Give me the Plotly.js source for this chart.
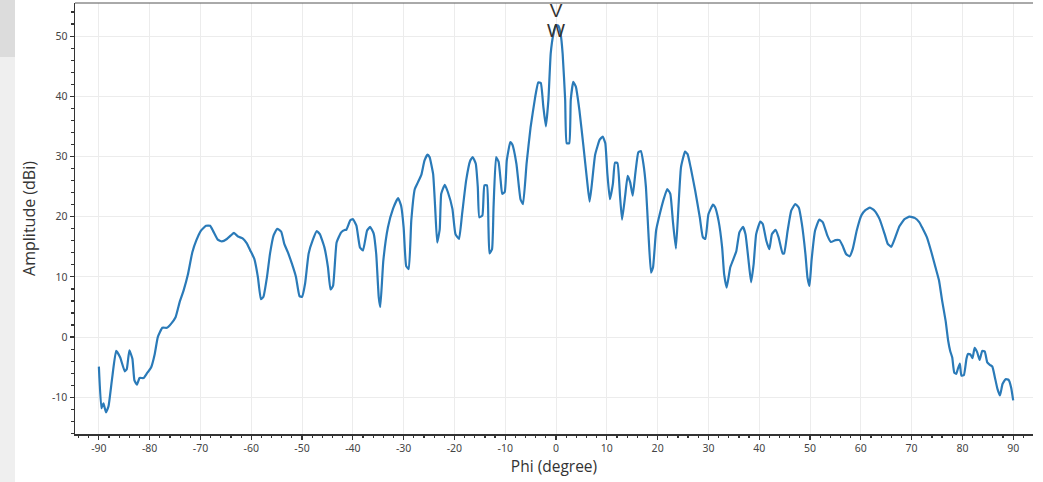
<!DOCTYPE html>
<html>
<head>
<meta charset="utf-8">
<script src="https://cdn.plot.ly/plotly-3.0.1.min.js"></script>
<style>html,body{margin:0;padding:0;background:#fff;}#chart{width:1043px;height:482px;}</style>
</head>
<body>
<div id="chart"></div>
<script>
const phi = [-90,-89.5,-89.1,-88.6,-88.1,-87.4,-86.6,-85.8,-84.9,-84.5,-84.0,-83.4,-83.0,-82.5,-82.0,-81.2,-80.6,-79.7,-79.0,-78.4,-77.5,-76.6,-75.8,-74.9,-74.1,-73.3,-72.5,-71.6,-70.8,-69.9,-68.9,-68.1,-67.5,-66.6,-65.8,-64.8,-64.0,-63.4,-62.6,-61.7,-60.9,-60.2,-59.4,-58.7,-58.1,-57.6,-56.9,-56.3,-55.6,-54.9,-54.1,-53.5,-52.8,-52.0,-51.2,-50.5,-50.0,-49.4,-48.7,-47.9,-47.1,-46.5,-45.6,-44.9,-44.4,-43.9,-43.2,-42.3,-41.6,-41.3,-40.5,-40.0,-39.3,-38.6,-38.0,-37.2,-36.6,-35.9,-35.4,-34.9,-34.6,-34.0,-33.1,-32.1,-31.1,-30.5,-30.0,-29.5,-29.0,-28.5,-27.8,-27.2,-26.5,-25.9,-25.3,-24.9,-24.2,-23.8,-23.4,-22.9,-22.6,-21.9,-21.3,-20.4,-19.8,-19.1,-18.5,-17.7,-16.9,-16.4,-15.8,-15.4,-15.1,-14.5,-14.1,-13.6,-13.3,-13.1,-12.6,-12.3,-11.8,-11.3,-10.9,-10.6,-10.1,-9.7,-9.0,-8.6,-7.8,-7.0,-6.5,-5.8,-5.0,-4.1,-3.5,-3.0,-2.5,-2.0,-1.5,-1.05,-0.5,0,0.46,0.9,1.3,1.8,2.1,2.6,2.9,3.4,3.9,4.6,5.4,6.1,6.6,7.0,7.7,8.6,9.2,9.7,10.1,10.6,11.2,11.6,12.1,12.6,13.0,13.6,14.1,14.6,15.1,15.6,16.2,16.7,17.2,17.7,18.2,18.7,19.1,19.7,20.5,21.3,21.9,22.5,23.0,23.6,24.1,24.6,25.4,25.9,26.5,27.4,28.3,28.9,29.4,30.0,30.9,31.3,32.0,32.7,33.1,33.6,34.3,34.8,35.5,36.1,36.8,37.3,37.9,38.4,38.9,39.4,40.2,40.7,41.4,42.0,42.5,43.2,43.8,44.6,44.9,45.6,46.3,47.1,47.8,48.4,49.1,49.5,49.9,50.3,51.0,51.8,52.5,53.4,54.1,55.0,55.8,56.4,57.1,57.8,58.4,59.2,60.1,60.9,61.8,62.7,63.7,64.7,65.3,66.0,66.8,67.6,68.6,69.6,70.6,71.5,72.2,73.0,73.9,74.7,75.4,76.0,76.7,77.2,77.6,78.0,78.4,78.8,79.1,79.5,79.8,80.3,80.8,81.1,81.6,82.0,82.4,82.9,83.4,83.9,84.4,84.9,85.4,85.9,86.4,86.9,87.4,87.9,88.5,89.1,89.6,90.0];
const amplitude = [-4.9,-11.8,-11.0,-12.5,-11.5,-6.9,-2.3,-3.4,-5.7,-5.3,-2.2,-3.6,-7.2,-7.9,-6.8,-6.8,-6.1,-5.0,-2.8,0,1.55,1.55,2.2,3.3,5.8,7.8,10.3,14.1,16.1,17.7,18.5,18.5,17.6,16.2,15.9,16.3,16.9,17.3,16.7,16.4,15.6,14.4,13.0,10.0,6.3,6.7,10.0,13.9,16.9,18.0,17.5,15.5,14.1,12.2,10.0,6.8,6.7,8.9,13.9,16.1,17.6,17.1,14.9,11.6,7.9,8.5,15.7,17.4,17.8,17.8,19.4,19.6,18.5,14.9,14.4,17.7,18.3,17.2,13.8,6.6,5.0,12.7,18.2,21.3,23.1,21.8,18.2,11.8,11.3,19.3,24.6,25.7,27.0,29.3,30.3,29.9,27.1,21.6,15.7,17.9,23.8,25.3,24.1,21.3,17.1,16.3,20.4,26.0,29.3,29.9,28.8,24.9,19.9,20.2,25.2,25.2,18.2,13.9,14.6,21.6,29.9,29.1,26.0,23.8,24.1,29.3,32.4,32.0,28.8,22.9,22.1,28.8,34.9,39.9,42.3,42.2,38.3,35.0,39.4,47.1,50.4,51.8,51.7,50.4,47.1,39.4,32.2,32.2,39.4,42.4,41.6,37.7,31.7,26.1,22.5,25.0,30.3,32.8,33.3,32.2,27.2,22.9,25.5,29.0,28.9,23.4,19.5,23.4,26.8,25.7,23.5,27.1,30.7,30.9,28.8,24.9,17.1,10.7,11.6,17.7,20.7,23.2,24.6,23.8,19.3,14.7,21.6,28.2,30.8,30.4,28.2,24.3,19.9,16.6,16.3,20.4,22.0,21.6,19.3,14.9,10.4,8.2,11.6,12.7,14.3,17.4,18.3,17.1,12.7,9.1,12.1,17.1,19.2,18.8,16.0,14.6,17.1,17.8,16.6,13.9,13.9,17.7,21.0,22.1,21.5,18.8,13.8,9.9,8.5,12.7,17.7,19.5,19.1,16.9,15.8,16.1,16.1,15.2,13.8,13.4,14.6,17.7,20.2,21.1,21.5,21.0,19.6,17.1,15.5,15.0,16.6,18.4,19.6,20.0,19.8,19.1,18.0,16.6,14.1,11.6,9.4,6.1,2.7,-0.6,-2.3,-3.4,-5.9,-6.1,-5.3,-4.4,-6.4,-6.3,-3.6,-2.8,-2.9,-3.5,-1.8,-2.5,-3.8,-2.3,-2.4,-4.2,-4.6,-4.9,-6.7,-8.6,-9.7,-7.8,-7.0,-7.1,-8.4,-10.5];
const markerPhi = [0, 0];
const markerAmp = [54.0, 50.6];
const markerText = ["V", "W"];
const xTicks = [-90,-80,-70,-60,-50,-40,-30,-20,-10,0,10,20,30,40,50,60,70,80,90];
const yTicks = [-10,0,10,20,30,40,50];

const W = 958, H = 431;
const traces = [
  {x: phi, y: amplitude, type: 'scatter', mode: 'lines',
   line: {color: '#2a7ab8', width: 2.2, shape: 'spline', smoothing: 0.4},
   hoverinfo: 'x+y', showlegend: false},
  {x: markerPhi, y: markerAmp, type: 'scatter', mode: 'text', text: markerText,
   textfont: {family: 'Liberation Sans', size: 19, color: '#333'},
   textposition: 'middle center', showlegend: false, hoverinfo: 'skip'}
];
const layout = {
  width: 1043, height: 482,
  margin: {l: 75, r: 10, t: 3, b: 48},
  paper_bgcolor: '#ffffff', plot_bgcolor: '#ffffff',
  font: {family: 'Noto Sans', size: 11, color: '#444'},
  xaxis: {
    range: [-94.7, 93.9], tickvals: xTicks, ticktext: xTicks.map(String),
    showgrid: true, gridcolor: '#ececec', gridwidth: 1, zeroline: false,
    showline: true, linecolor: '#333', linewidth: 1.5,
    ticks: 'outside', ticklen: 4, tickcolor: '#333', tickwidth: 1.2,
    minor: {dtick: 2, tick0: 0, ticks: 'outside', ticklen: 2.5, tickcolor: '#333', showgrid: false},
    tickfont: {family: 'Noto Sans', size: 10.5, color: '#444'},
    title: {text: 'Phi (degree)', font: {family: 'Open Sans', size: 15.5, color: '#333'}, standoff: 7}
  },
  yaxis: {
    range: [-16.1, 55.5], tickvals: yTicks, ticktext: yTicks.map(String),
    showgrid: true, gridcolor: '#ececec', gridwidth: 1, zeroline: false,
    showline: true, linecolor: '#333', linewidth: 1.5,
    ticks: 'outside', ticklen: 4, tickcolor: '#333', tickwidth: 1.2,
    minor: {dtick: 2, tick0: 0, ticks: 'outside', ticklen: 2.5, tickcolor: '#333', showgrid: false},
    tickfont: {family: 'Noto Sans', size: 10.5, color: '#444'},
    title: {text: 'Amplitude (dBi)', font: {family: 'Open Sans', size: 16, color: '#333'}, standoff: 12}
  },
  shapes: [
    {type: 'rect', xref: 'paper', yref: 'paper', x0: -75/W, x1: -60/W, y0: -48/H, y1: 1 + 3/H,
     fillcolor: '#efefef', line: {width: 0}, layer: 'below'},
    {type: 'rect', xref: 'paper', yref: 'paper', x0: -75/W, x1: -60/W, y0: 1 - 54/H, y1: 1 + 3/H,
     fillcolor: '#dcdcdc', line: {width: 0}, layer: 'below'},
    {type: 'line', xref: 'paper', yref: 'paper', x0: 0, x1: 1, y0: 1, y1: 1,
     line: {color: '#555', width: 1}}
  ]
};
Plotly.newPlot('chart', traces, layout, {displayModeBar: false, staticPlot: true});
</script>
</body>
</html>
